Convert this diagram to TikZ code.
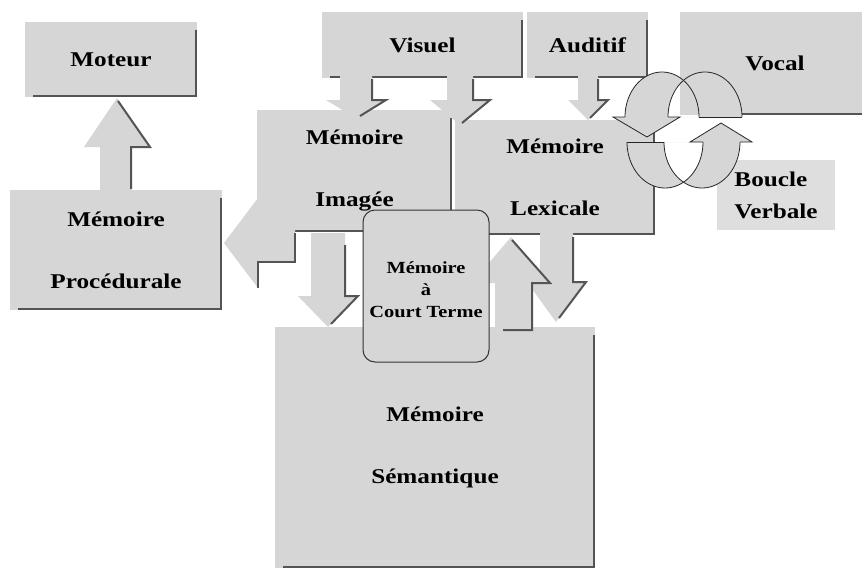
\documentclass[tikz,border=0pt]{standalone}
\usepackage{fontspec}
\newfontfamily\lbl{Liberation Serif}[FakeStretch=1.2]
\definecolor{ht}{gray}{0.84}
\definecolor{htl}{gray}{0.87}
\definecolor{sh}{gray}{0.33}
\newcommand\shbox[1]{\draw[shad] ([shift={(-1pt,-8pt)}]#1.north east) -- ([shift={(-1pt,1pt)}]#1.south east) -- ([shift={(8pt,1pt)}]#1.south west);}
\begin{document}
\begin{tikzpicture}[x=1pt,y=-1pt,
  box/.style={fill=ht, inner sep=0pt, outer sep=0pt, align=center, font=\lbl\bfseries\fontsize{21}{24}\selectfont},
  small/.style={inner sep=0pt, outer sep=0pt, align=center, font=\lbl\bfseries\fontsize{17}{22}\selectfont},
  shad/.style={draw=sh, line width=2pt},
  ring/.style={draw=black!85, line width=0.8pt},
  ctbox/.style={fill=ht, draw=black!80, line width=1pt, rounded corners=12pt, inner sep=0pt, outer sep=0pt}]
\useasboundingbox (0,0) rectangle (862,574);
\fill[white] (0,0) rectangle (862,574);

% boxes
\node[box, minimum width=320, minimum height=241] (sem) at (435,447.5) {Mémoire\\[38pt]Sémantique};
\shbox{sem}
\node[box, minimum width=172, minimum height=75] (moteur) at (111,59.5) {Moteur};
\shbox{moteur}
\node[box, minimum width=212, minimum height=120] (proc) at (116,250) {Mémoire\\[38pt]Procédurale};
\shbox{proc}
\node[box, minimum width=201, minimum height=66] (visuel) at (422.5,45) {Visuel};
\shbox{visuel}
\node[box, minimum width=121, minimum height=66] (auditif) at (587.5,45) {Auditif};
\shbox{auditif}
\node[box, minimum width=190, minimum height=103] (vocal) at (775,63.5) {Vocal};
\draw[shad] (742,114) -- (862,114);
\node[box, minimum width=195, minimum height=122] (imagee) at (354.5,171) {Mémoire\\[38pt]Imagée};
\shbox{imagee}
\node[box, minimum width=200, minimum height=115] (lexicale) at (555,177.5) {Mémoire\\[38pt]Lexicale};
\shbox{lexicale}
\node[box, fill=htl, minimum width=118, minimum height=70] (boucle) at (776,195) {};

% block arrows
\fill[ht] (100,193) -- (100,147) -- (84,147) -- (117,98) -- (150,147) -- (131,147) -- (131,193) -- cycle;
\draw[shad] (118,101) -- (150,147) -- (131,147) -- (131,189);
\fill[ht] (300,222) -- (258,222) -- (258,198) -- (224,243) -- (258,288) -- (258,262) -- (295,262) -- (295,230) -- cycle;
\draw[shad] (258,288) -- (258,262) -- (295,262) -- (295,233);
\fill[ht] (340,74) -- (340,100) -- (326,100) -- (356,118) -- (386,100) -- (372,100) -- (372,74) -- cycle;
\draw[shad] (372,79) -- (372,100) -- (386,100) -- (360,116);
\fill[ht] (447,74) -- (447,100) -- (430,100) -- (460,125) -- (490,100) -- (473,100) -- (473,74) -- cycle;
\draw[shad] (473,79) -- (473,100) -- (490,100) -- (462,123);
\fill[ht] (578,74) -- (578,100) -- (568,100) -- (588,120) -- (608,100) -- (598,100) -- (598,74) -- cycle;
\draw[shad] (598,79) -- (598,100) -- (608,100) -- (590,118);
\fill[ht] (311,233) -- (311,296) -- (298,296) -- (328,327) -- (358,296) -- (345,296) -- (345,233) -- cycle;
\draw[shad] (345,245) -- (345,296) -- (358,296) -- (331,324);
\fill[ht] (540,232) -- (540,282) -- (527,282) -- (556,322) -- (586,282) -- (573,282) -- (573,232) -- cycle;
\draw[shad] (573,237) -- (573,282) -- (586,282) -- (559,318);
\fill[ht] (495,331) -- (495,283) -- (472,283) -- (511,237) -- (550,283) -- (532,283) -- (532,331) -- cycle;
\draw[shad] (512,240) -- (550,283) -- (532,283) -- (532,330) -- (503,330);

% verbal loop (circular arrows)
\fill[ht, even odd rule]
  plot[domain=180:0, samples=50] ({662+37*cos(\x)},{117-45*sin(\x)}) -- cycle
  plot[domain=180:0, samples=50] ({705+37*cos(\x)},{117-45*sin(\x)}) -- cycle;
\draw[ring] plot[domain=180:0, samples=50] ({662+37*cos(\x)},{117-45*sin(\x)});
\draw[ring] plot[domain=180:0, samples=50] ({705+37*cos(\x)},{117-45*sin(\x)});
\draw[ring] (699,117) -- (742,117);
\fill[ht] (613,117) -- (647,137) -- (680,117) -- cycle;
\draw[ring] (625,117) -- (613,117) -- (647,137) -- (680,117) -- (668,117);

\fill[ht, even odd rule]
  plot[domain=180:360, samples=50] ({665+38*cos(\x)},{142-46*sin(\x)}) -- cycle
  plot[domain=180:360, samples=50] ({702+38*cos(\x)},{142-46*sin(\x)}) -- cycle;
\draw[ring] plot[domain=180:360, samples=50] ({665+38*cos(\x)},{142-46*sin(\x)});
\draw[ring] plot[domain=180:360, samples=50] ({702+38*cos(\x)},{142-46*sin(\x)});
\draw[ring] (627,142) -- (664,142);
\fill[ht] (690,142) -- (721,123) -- (752,142) -- cycle;
\draw[ring] (703,142) -- (690,142) -- (721,123) -- (752,142) -- (740,142);

\node[box, fill=none, align=left] (bouctxt) at (776,195) {Boucle\\[8pt]Verbale};

% short-term memory
\node[ctbox, minimum width=126, minimum height=152] (ct) at (426,286) {};
\node[small] (cttxt) at (426,290) {Mémoire\\à\\Court Terme};
\end{tikzpicture}
\end{document}
